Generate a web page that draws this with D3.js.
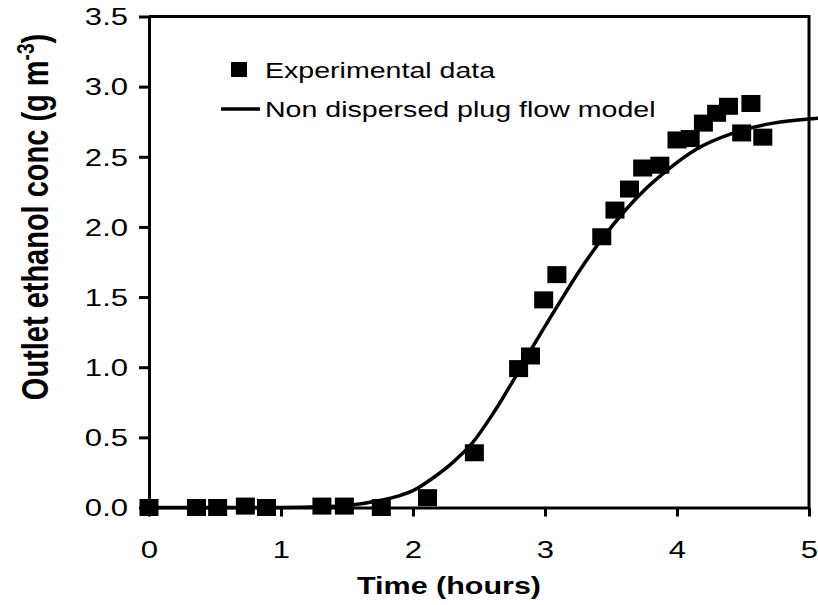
<!DOCTYPE html>
<html>
<head>
<meta charset="utf-8">
<script src="https://cdn.jsdelivr.net/npm/d3@7"></script>
<style>
  html, body { margin: 0; padding: 0; background: #fff; }
  svg { display: block; font-family: "Liberation Sans", Arial, sans-serif; }
</style>
</head>
<body>
<svg id="chart" width="818" height="605"></svg>
<script>
// ---- data ----
const expTime = [0, 0.36, 0.52, 0.73, 0.89, 1.31, 1.48, 1.76, 2.11, 2.465, 2.80, 2.89, 2.99, 3.09, 3.43, 3.53, 3.64, 3.74, 3.87, 4.00, 4.10, 4.20, 4.30, 4.39, 4.49, 4.56, 4.65];
const expConc = [0, 0.0, 0.0, 0.01, 0.0, 0.01, 0.01, 0.0, 0.07, 0.39, 0.99, 1.08, 1.48, 1.66, 1.93, 2.12, 2.27, 2.42, 2.44, 2.62, 2.63, 2.74, 2.81, 2.86, 2.67, 2.88, 2.64];

const modelTime = [0, 1.0, 1.3, 1.5, 1.75, 1.9, 2.0, 2.15, 2.3, 2.45, 2.6, 2.75, 2.91, 3.09, 3.27, 3.42, 3.6, 3.75, 3.92, 4.14, 4.43, 4.73, 5.0, 5.07];
const modelConc = [0, 0, 0.005, 0.015, 0.05, 0.085, 0.12, 0.21, 0.32, 0.46, 0.66, 0.89, 1.15, 1.43, 1.70, 1.90, 2.11, 2.26, 2.40, 2.55, 2.67, 2.74, 2.77, 2.775];

const xTicks = [0, 1, 2, 3, 4, 5];
const yTicks = [0, 0.5, 1.0, 1.5, 2.0, 2.5, 3.0, 3.5];
const legendLabels = ["Experimental data", "Non dispersed plug flow model"];
const xTitle = "Time (hours)";
const yTitleMain = "Outlet ethanol conc (g m";
const yTitleSup = "-3";
const yTitleEnd = ")";

// ---- layout ----
const SX = 1.27;   // horizontal stretch of the text in the reference
const SXT = 1.35;  // stretch for tick labels
const svg = d3.select("#chart");
const pLeft = 149, pRight = 809, pTop = 16.5, pBottom = 507.5;

const x = d3.scaleLinear().domain([0, 5]).range([pLeft, pRight]);
const y = d3.scaleLinear().domain([0, 3.5]).range([pBottom, pTop]);

// frame (top & right)
svg.append("path")
  .attr("d", `M${pLeft},${pTop}H${pRight}V${pBottom}`)
  .attr("fill", "none").attr("stroke", "#000").attr("stroke-width", 3);

// x axis
const gx = svg.append("g").attr("transform", `translate(0,${pBottom})`)
  .call(d3.axisBottom(x).tickValues(xTicks).tickFormat(d3.format("d")).tickSizeOuter(0).tickSizeInner(9).tickPadding(0));
gx.select(".domain").attr("stroke-width", 3);
gx.selectAll(".tick line").attr("stroke-width", 3);
gx.selectAll(".tick text")
  .attr("font-size", 23).attr("font-family", "Liberation Sans, Arial, sans-serif")
  .attr("fill", "#000").attr("dy", null).attr("y", 51)
  .attr("transform", `scale(${SXT},1)`).attr("x", 0);

// y axis
const gy = svg.append("g").attr("transform", `translate(${pLeft},0)`)
  .call(d3.axisLeft(y).tickValues(yTicks).tickFormat(d3.format(".1f")).tickSizeOuter(0).tickSizeInner(10).tickPadding(0));
gy.select(".domain").attr("stroke-width", 3);
gy.selectAll(".tick line").attr("stroke-width", 3);
gy.selectAll(".tick text")
  .attr("font-size", 23).attr("font-family", "Liberation Sans, Arial, sans-serif")
  .attr("fill", "#000").attr("dy", "0.36em")
  .attr("x", -21 / SXT)
  .attr("transform", `scale(${SXT},1)`);

// model curve
const line = d3.line().x((d, i) => x(modelTime[i])).y((d, i) => y(modelConc[i])).curve(d3.curveMonotoneX);
svg.append("path").datum(modelConc)
  .attr("d", line).attr("fill", "none").attr("stroke", "#000").attr("stroke-width", 3.5);

// experimental squares
const mw = 19, mh = 17;
svg.append("g").selectAll("rect").data(expConc).join("rect")
  .attr("x", (d, i) => x(expTime[i]) - mw / 2)
  .attr("y", d => y(d) - mh / 2)
  .attr("width", mw).attr("height", mh).attr("fill", "#000");

// legend
const lg = svg.append("g");
lg.append("rect").attr("x", 231).attr("y", 62).attr("width", 16).attr("height", 15).attr("fill", "#000");
lg.append("text").attr("transform", `translate(265,78) scale(${SX},1)`)
  .attr("font-size", 22.5).attr("fill", "#000").text(legendLabels[0]);
lg.append("line").attr("x1", 221).attr("x2", 260).attr("y1", 109).attr("y2", 109)
  .attr("stroke", "#000").attr("stroke-width", 3.5);
lg.append("text").attr("transform", `translate(265,117) scale(${SX},1)`)
  .attr("font-size", 22.5).attr("fill", "#000").text(legendLabels[1]);

// x title
svg.append("text").attr("transform", `translate(449,594) scale(${SX},1)`)
  .attr("text-anchor", "middle").attr("font-size", 24).attr("font-weight", "bold")
  .attr("fill", "#000").text(xTitle);

// y title
const yt = svg.append("text").attr("transform", `translate(48,217) scale(${SX},1) rotate(-90)`)
  .attr("text-anchor", "middle").attr("font-size", 29).attr("font-weight", "bold").attr("fill", "#000");
yt.append("tspan").text(yTitleMain);
yt.append("tspan").attr("font-size", 19).attr("dy", -11).text(yTitleSup);
yt.append("tspan").attr("dy", 11).text(yTitleEnd);
</script>
</body>
</html>
